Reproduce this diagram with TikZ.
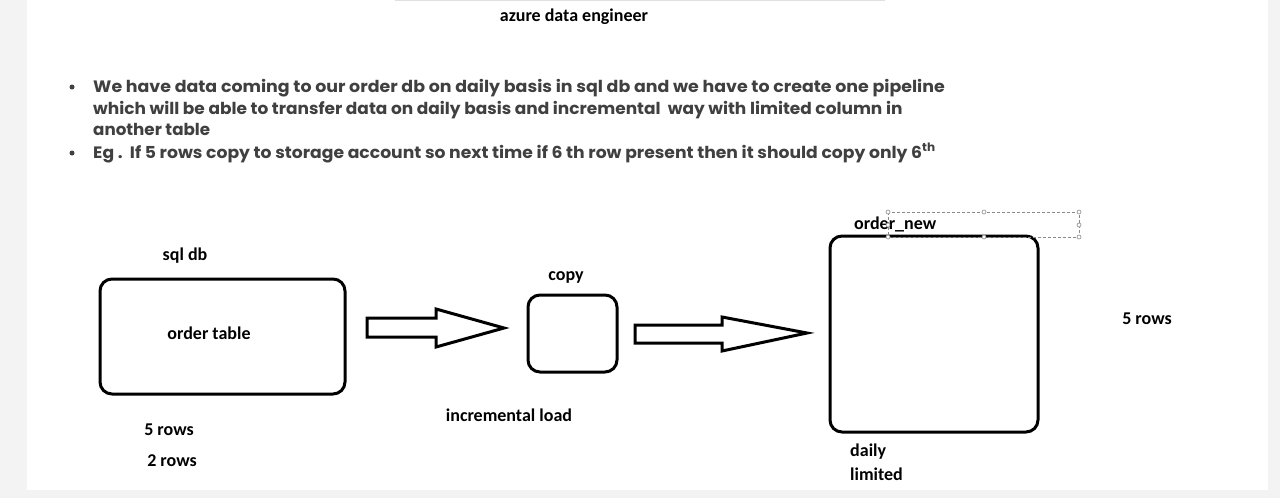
\documentclass[tikz,border=0pt]{standalone}
\usepackage{fontspec}
\setmainfont{Carlito}
\newfontfamily\bulletfont[FakeStretch=1.055]{Poppins}
\definecolor{bggray}{HTML}{F3F3F3}
\definecolor{txtgray}{HTML}{404040}
\definecolor{handlegray}{HTML}{8A8A8A}
\begin{document}
\begin{tikzpicture}[x=1pt,y=-1pt,
  lbl/.style={font=\fontsize{18}{20}\selectfont\bfseries, inner sep=0pt, text=black},
  btxt/.style={font=\bulletfont\fontsize{16.5}{18}\selectfont\bfseries, text=txtgray, anchor=base west, inner sep=0pt},
  boxst/.style={draw, line width=3pt, rounded corners=12pt, inner sep=0pt},
  blockarrow/.style={draw, line width=3pt, line join=miter, fill=white},
  handle/.style={draw=handlegray, fill=white, line width=0.6pt},
  bul/.style={fill=txtgray, circle, inner sep=0pt, minimum size=5pt}]
\useasboundingbox (0,0) rectangle (1280,498);
\fill[bggray] (0,0) rectangle (1280,498);
\fill[white] (27,0) rectangle (1268,490);
\draw[black!12, line width=1pt] (395,0.5) -- (885,0.5);

% title
\node[lbl] (title) at (574,16.5) {azure data engineer};

% bullets
\node[bul] (b1) at (72,87) {};
\node[bul] (b2) at (72,153) {};
\node[btxt] (l1) at (93,92.5) {We have data coming to our order db on daily basis in sql db and we have to create one pipeline};
\node[btxt, xscale=0.975, transform shape] (l2) at (93,114) {which will be able to transfer data on daily basis and incremental\ \ way with limited column in};
\node[btxt, xscale=0.96, transform shape] (l3) at (93,135.5) {another table};
\node[btxt, xscale=0.988, transform shape] (l4) at (93,158) {Eg .\ \ If 5 rows copy to storage account so next time if 6 th row present then it should copy only 6\textsuperscript{th}};

% boxes
\node[boxst, minimum width=245pt, minimum height=115pt] (sqlbox) at (222.5,336.5) {};
\node[lbl] (sqldb) at (185,256) {sql db};
\node[lbl] (ordertable) at (209,333) {order table};

\node[boxst, minimum width=89pt, minimum height=77pt] (copybox) at (572.5,333.5) {};
\node[lbl] (copy) at (566,277) {copy};

\node[boxst, minimum width=208pt, minimum height=196pt] (newbox) at (934,334) {};
\node[lbl, anchor=west] (ordernew) at (854,224) {order\_new};

% block arrows
\draw[blockarrow] (367,318) -- (436,318) -- (436,309) -- (504,328) -- (436,347) -- (436,337) -- (367,337) -- cycle;
\draw[blockarrow] (635,325) -- (722,325) -- (722,317) -- (807,333) -- (722,351) -- (722,343) -- (635,343) -- cycle;

% selection frame
\draw[handlegray, line width=0.7pt, dash pattern=on 3pt off 2pt] (888,212) rectangle (1079,237);
\foreach \p in {(888,212),(984,212),(1079,212),(1079,225),(1079,237),(984,237),(888,237),(888,225)}
  \draw[handle] \p circle (2pt);

% other labels
\node[lbl] (fiverowsr) at (1147,319) {5 rows};
\node[lbl] (incload) at (509,415) {incremental load};
\node[lbl] (fiverows) at (169,430) {5 rows};
\node[lbl] (tworows) at (172,461) {2 rows};
\node[lbl, anchor=west] (daily) at (850,452) {daily};
\node[lbl, anchor=west] (limited) at (850,474) {limited};
\end{tikzpicture}
\end{document}
